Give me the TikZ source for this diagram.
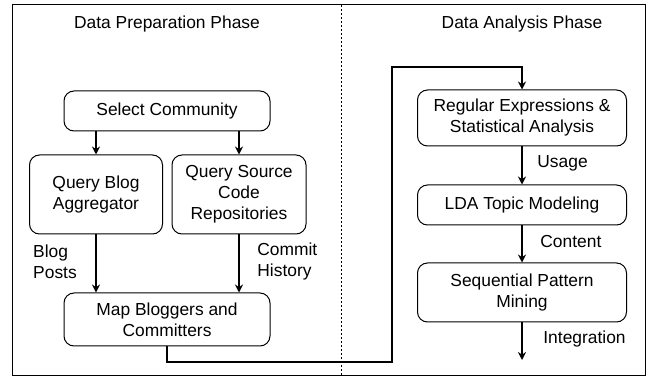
\documentclass[tikz,border=0pt]{standalone}
\usepackage{fontspec}
\setmainfont{Liberation Sans}
\usetikzlibrary{arrows.meta, positioning}

\begin{document}
\begin{tikzpicture}[x=0.5pt, y=-0.5pt,
    font=\fontsize{8.7}{10.5}\selectfont,
    stage/.style={draw, rounded corners=5pt, align=center, inner sep=0pt, line width=0.5pt},
    flow/.style={-{Stealth[length=4pt, width=4pt]}, line width=0.8pt},
    tag/.style={align=left, inner sep=0pt}]
    \useasboundingbox (0,0) rectangle (648,379);

    % frame and the two phases
    \draw[line width=0.5pt] (12,5) rectangle (645,375);
    \draw[line width=0.5pt, dash pattern=on 1pt off 1pt] (341,5) -- (341,375);
    \node (prep) at (167,24) {Data Preparation Phase};
    \node (anal) at (522,24) {Data Analysis Phase};

    % data preparation
    \node[stage, minimum width=103pt, minimum height=20pt] (select) at (167,111) {Select Community};
    \node[stage, minimum width=66.5pt, minimum height=39.5pt] (blog) at (96,194.5) {Query Blog\\Aggregator};
    \node[stage, minimum width=67pt, minimum height=39.5pt] (source) at (239,194.5) {Query Source\\Code\\Repositories};
    \node[stage, minimum width=103pt, minimum height=26.5pt] (map) at (167,319.5) {Map Bloggers and\\Committers};

    \node[tag] (posts) at (55,262) {Blog\\Posts};
    \node[tag, anchor=west] (history) at (257,262) {Commit\\History};

    % data analysis
    \node[stage, minimum width=104.5pt, minimum height=28pt] (regex) at (522,118) {Regular Expressions \&\\Statistical Analysis};
    \node[stage, minimum width=104.5pt, minimum height=20pt] (lda) at (522,205) {LDA Topic Modeling};
    \node[stage, minimum width=104.5pt, minimum height=29.5pt] (seq) at (522,292.5) {Sequential Pattern\\Mining};

    \node[tag, anchor=west] (usage) at (537,163) {Usage};
    \node[tag, anchor=west] (content) at (540,242) {Content};
    \node[tag, anchor=west] (integ) at (543,339) {Integration};

    \coordinate (lowturn) at (392,362);
    \coordinate (highturn) at (392,67);
    \coordinate (result) at (522,360);

    \draw[flow] (select.south -| blog) -- (blog);
    \draw[flow] (select.south -| source) -- (source);
    \draw[flow] (blog) -- (map.north -| blog);
    \draw[flow] (source) -- (map.north -| source);

    \draw[flow] (map.south) |- (lowturn) -- (highturn) -| (regex.north);
    \draw[flow] (regex) -- (lda);
    \draw[flow] (lda) -- (seq);
    \draw[flow] (seq) -- (result);
\end{tikzpicture}
\end{document}
